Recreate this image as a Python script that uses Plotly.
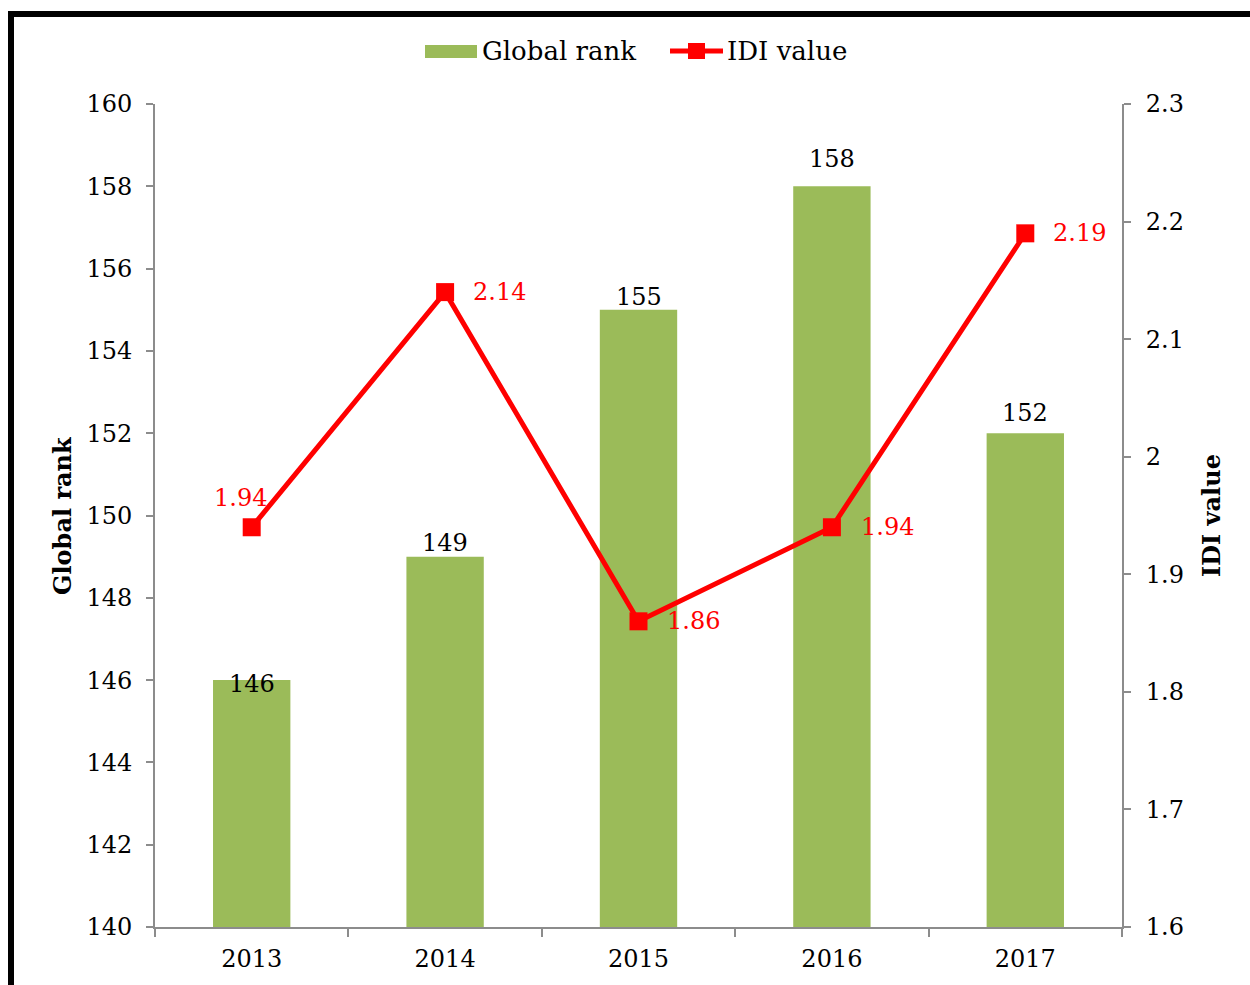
import plotly.graph_objects as go

years = ["2013", "2014", "2015", "2016", "2017"]
global_rank = [146, 149, 155, 158, 152]
idi_value = [1.94, 2.14, 1.86, 1.94, 2.19]

rank_ticks = [140, 142, 144, 146, 148, 150, 152, 154, 156, 158, 160]
idi_ticks = [1.6, 1.7, 1.8, 1.9, 2.0, 2.1, 2.2, 2.3]
idi_tick_text = ["1.6", "1.7", "1.8", "1.9", "2", "2.1", "2.2", "2.3"]

FONT = "DejaVu Serif"
FS = 24
GREEN = "#9BBB59"
RED = "#FF0000"
AXIS = "#8C8C8C"

W, H = 1250, 985
L, R, T, B = 155, 128, 104, 58


def px_x(p):
    return (p - L) / (W - L - R)


def px_y(p):
    return (H - B - p) / (H - T - B)


fig = go.Figure()
fig.add_trace(go.Bar(
    x=years, y=global_rank, name="Global rank",
    marker=dict(color=GREEN, line=dict(width=0)),
    yaxis="y", showlegend=False,
))
fig.add_trace(go.Scatter(
    x=years, y=idi_value, name="IDI value", mode="lines+markers",
    line=dict(color=RED, width=5),
    marker=dict(symbol="square", size=18, color=RED),
    yaxis="y2", showlegend=False,
))

# value labels for the bars (pixel offsets above bar tops)
bar_shift = [-4, 14, 13, 27, 20]
for i, (v, s) in enumerate(zip(global_rank, bar_shift)):
    fig.add_annotation(x=i, y=v, xref="x", yref="y", text=str(v),
                       showarrow=False, yshift=s,
                       font=dict(family=FONT, size=FS, color="black"))

# value labels for the IDI line
line_shift = [(-11, 29), (54, 0), (55, 0), (56, 0), (54, 0)]
for i, (v, (dx, dy)) in enumerate(zip(idi_value, line_shift)):
    fig.add_annotation(x=i, y=v, xref="x", yref="y2", text=f"{v:.2f}",
                       showarrow=False, xshift=dx, yshift=dy,
                       font=dict(family=FONT, size=FS, color=RED))

# legend drawn by hand: wide bar swatch and line-with-marker swatch
LEG = 26
fig.add_shape(type="rect", xref="paper", yref="paper",
              x0=px_x(425), x1=px_x(477), y0=px_y(58), y1=px_y(45),
              fillcolor=GREEN, line=dict(width=0))
fig.add_annotation(xref="paper", yref="paper", x=px_x(480), y=px_y(51),
                   xanchor="left", yanchor="middle", showarrow=False,
                   text="Global rank", font=dict(family=FONT, size=LEG, color="black"))
fig.add_shape(type="line", xref="paper", yref="paper",
              x0=px_x(670), x1=px_x(723), y0=px_y(51), y1=px_y(51),
              line=dict(color=RED, width=5))
fig.add_shape(type="rect", xref="paper", yref="paper",
              x0=px_x(688), x1=px_x(705), y0=px_y(59), y1=px_y(43),
              fillcolor=RED, line=dict(width=0))
fig.add_annotation(xref="paper", yref="paper", x=px_x(725), y=px_y(51),
                   xanchor="left", yanchor="middle", showarrow=False,
                   text="IDI value", font=dict(family=FONT, size=LEG, color="black"))

# axis titles
fig.add_annotation(xref="paper", yref="paper", x=px_x(62), y=px_y(516),
                   xanchor="center", yanchor="middle", showarrow=False,
                   textangle=-90, text="<b>Global rank</b>",
                   font=dict(family=FONT, size=24, color="black"))
fig.add_annotation(xref="paper", yref="paper", x=px_x(1211), y=px_y(516),
                   xanchor="center", yanchor="middle", showarrow=False,
                   textangle=-90, text="<b>IDI value</b>",
                   font=dict(family=FONT, size=24, color="black"))

# heavy frame along the top and left edges
fig.add_shape(type="rect", xref="paper", yref="paper",
              x0=px_x(11), x1=px_x(1290), y0=px_y(14), y1=px_y(1030),
              line=dict(color="black", width=6), fillcolor="rgba(0,0,0,0)")

fig.update_layout(
    width=W, height=H,
    margin=dict(l=L, r=R, t=T, b=B, pad=0, autoexpand=False),
    paper_bgcolor="white", plot_bgcolor="white",
    font=dict(family=FONT, size=FS, color="black"),
    bargap=0.6,
    showlegend=False,
    xaxis=dict(
        type="category", range=[-0.5, 4.5], showline=True, linecolor=AXIS,
        linewidth=2, ticks="outside", tickson="boundaries", ticklen=8,
        tickcolor=AXIS, tickwidth=2, showgrid=False, tickangle=0,
        tickfont=dict(family=FONT, size=FS), automargin=False,
        ticklabelstandoff=9,
    ),
    yaxis=dict(
        range=[140, 160], tickvals=rank_ticks, showline=True, linecolor=AXIS,
        linewidth=2, ticks="outside", ticklen=7, tickcolor=AXIS, tickwidth=2,
        showgrid=False, zeroline=False, tickfont=dict(family=FONT, size=FS),
        automargin=False, ticklabelstandoff=9,
    ),
    yaxis2=dict(
        range=[1.6, 2.3], tickvals=idi_ticks, ticktext=idi_tick_text,
        overlaying="y", side="right", showline=True, linecolor=AXIS,
        linewidth=2, ticks="outside", ticklen=7, tickcolor=AXIS, tickwidth=2,
        showgrid=False, zeroline=False, tickfont=dict(family=FONT, size=FS),
        automargin=False, ticklabelstandoff=10,
    ),
)

fig.write_html("out.html")
